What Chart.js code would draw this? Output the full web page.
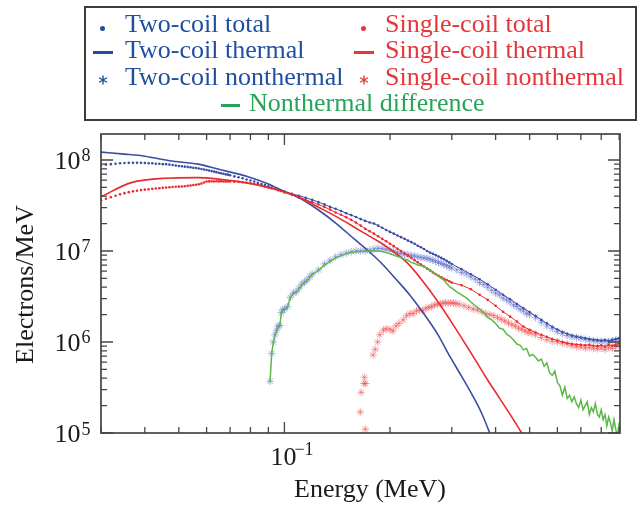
<!DOCTYPE html>
<html lang="en">
<head>
<meta charset="utf-8">
<title>Electron energy spectra</title>
<script src="https://cdn.jsdelivr.net/npm/chart.js@4.4.1/dist/chart.umd.min.js"></script>
<style>
  body { margin: 0; background: #fff; }
  #wrap { position: relative; width: 639px; height: 505px; }
  #chart { position: absolute; left: 0; top: 0; }
  #legendBox { position: absolute; left: 84px; top: 6px; width: 553px; height: 115px; box-sizing: border-box; border: 2px solid #3c3c3c; }
  .lg { position: absolute; font: 26px "Liberation Serif", "Times New Roman", serif; line-height: 26px; white-space: nowrap; }
  .blue { color: #1f4f9e; }
  .red { color: #e4363b; }
  .green { color: #26a558; }
  .dot { position: absolute; width: 5px; height: 5px; border-radius: 50%; }
  .bar { position: absolute; width: 20px; height: 3px; }
  .star { position: absolute; }
</style>
</head>
<body>
<div id="wrap">
  <canvas id="chart" width="639" height="505"></canvas>
  <div id="legendBox"></div>

  <div class="dot" style="left:100px;top:26px;background:#1f4f9e"></div>
  <span class="lg blue" style="left:125px;top:11px">Two-coil total</span>
  <div class="bar" style="left:93px;top:51px;background:#1f4f9e"></div>
  <span class="lg blue" style="left:125px;top:37px">Two-coil thermal</span>
  <svg class="star" style="left:98px;top:75px" width="10" height="10" viewBox="0 0 10 10"><path d="M5 .5V9.5M1.1 2.75L8.9 7.25M1.1 7.25L8.9 2.75" stroke="#1f4f9e" stroke-width="1.4"/></svg>
  <span class="lg blue" style="left:125px;top:64px">Two-coil nonthermal</span>

  <div class="dot" style="left:361px;top:26px;background:#e4363b"></div>
  <span class="lg red" style="left:385px;top:11px">Single-coil total</span>
  <div class="bar" style="left:354px;top:51px;background:#e4363b"></div>
  <span class="lg red" style="left:385px;top:37px">Single-coil thermal</span>
  <svg class="star" style="left:359px;top:75px" width="10" height="10" viewBox="0 0 10 10"><path d="M5 .5V9.5M1.1 2.75L8.9 7.25M1.1 7.25L8.9 2.75" stroke="#e4363b" stroke-width="1.4"/></svg>
  <span class="lg red" style="left:385px;top:64px">Single-coil nonthermal</span>

  <div class="bar" style="left:221px;top:104px;width:19px;background:#26a558"></div>
  <span class="lg green" style="left:249px;top:90px">Nonthermal difference</span>
</div>

<script>
// energy (MeV), electrons/MeV
const twoCoilTotal = [
  [0.030,8.8e7],[0.031,8.9e7],[0.032,9.0e7],[0.033,9.1e7],[0.034,9.2e7],[0.035,9.25e7],[0.036,9.3e7],[0.037,9.3e7],[0.038,9.3e7],[0.039,9.3e7],
  [0.040,9.25e7],[0.041,9.2e7],[0.042,9.2e7],[0.043,9.1e7],[0.044,9.1e7],[0.045,9.0e7],[0.046,9.0e7],[0.047,8.9e7],[0.048,8.8e7],[0.049,8.7e7],
  [0.050,8.6e7],[0.051,8.55e7],[0.052,8.45e7],[0.053,8.4e7],[0.054,8.3e7],[0.055,8.2e7],[0.056,8.15e7],[0.057,8.05e7],[0.058,7.95e7],[0.059,7.85e7],
  [0.060,7.75e7],[0.061,7.65e7],[0.062,7.55e7],[0.063,7.45e7],[0.064,7.35e7],[0.065,7.25e7],[0.066,7.15e7],[0.067,7.05e7],[0.068,6.95e7],[0.069,6.9e7],
  [0.070,6.8e7],[0.072,6.6e7],[0.074,6.45e7],[0.076,6.3e7],[0.078,6.1e7],[0.080,5.95e7],[0.082,5.8e7],[0.084,5.6e7],[0.086,5.45e7],[0.088,5.3e7],
  [0.090,5.15e7],[0.092,5.0e7],[0.094,4.85e7],[0.096,4.7e7],[0.098,4.6e7],[0.100,4.5e7],
  [0.105,4.25e7],[0.110,4.05e7],[0.115,3.85e7],[0.120,3.65e7],[0.125,3.45e7],[0.130,3.25e7],[0.135,3.05e7],[0.140,2.9e7],[0.145,2.75e7],[0.150,2.6e7],
  [0.155,2.48e7],[0.160,2.36e7],[0.165,2.24e7],[0.170,2.14e7],[0.175,2.06e7],[0.180,2.0e7],[0.185,1.9e7],[0.190,1.8e7],[0.195,1.7e7],[0.200,1.62e7],
  [0.205,1.55e7],[0.210,1.48e7],[0.215,1.42e7],[0.220,1.36e7],[0.225,1.3e7],[0.230,1.25e7],[0.235,1.2e7],[0.240,1.14e7],[0.245,1.1e7],[0.250,1.05e7],
  [0.255,1.0e7],[0.260,9.6e6],[0.265,9.3e6],[0.270,9.0e6],[0.275,8.7e6],[0.280,8.4e6],[0.285,8.1e6],[0.290,7.8e6],[0.295,7.5e6],[0.300,7.2e6],
  [0.32,6.3e6],[0.34,5.55e6],[0.36,4.9e6],[0.38,4.3e6],[0.40,3.75e6],[0.42,3.3e6],[0.44,2.95e6],[0.46,2.62e6],[0.48,2.35e6],[0.50,2.13e6],
  [0.52,1.93e6],[0.54,1.75e6],[0.56,1.6e6],[0.58,1.47e6],[0.60,1.37e6],[0.62,1.29e6],[0.64,1.23e6],[0.66,1.18e6],[0.68,1.15e6],[0.70,1.12e6],
  [0.72,1.1e6],[0.74,1.08e6],[0.76,1.06e6],[0.78,1.05e6],[0.80,1.04e6],[0.82,1.05e6],[0.84,1.03e6],[0.86,1.06e6],[0.88,1.08e6],[0.90,1.1e6]
];

const singleCoilTotal = [
  [0.030,3.6e7],[0.031,3.75e7],[0.032,3.9e7],[0.033,4.05e7],[0.034,4.2e7],[0.035,4.32e7],[0.036,4.43e7],[0.037,4.52e7],[0.038,4.6e7],[0.039,4.67e7],
  [0.040,4.72e7],[0.041,4.77e7],[0.042,4.82e7],[0.043,4.86e7],[0.044,4.9e7],[0.045,4.94e7],[0.046,4.98e7],[0.047,5.02e7],[0.048,5.05e7],[0.049,5.08e7],
  [0.050,5.1e7],[0.051,5.12e7],[0.052,5.15e7],[0.053,5.2e7],[0.054,5.25e7],[0.055,5.3e7],[0.056,5.35e7],[0.057,5.42e7],[0.058,5.5e7],[0.059,5.65e7],
  [0.060,5.8e7],[0.061,5.82e7],[0.062,5.85e7],[0.063,5.8e7],[0.064,5.85e7],[0.065,5.82e7],[0.066,5.85e7],[0.067,5.8e7],[0.068,5.82e7],[0.069,5.8e7],
  [0.070,5.8e7],[0.072,5.78e7],[0.074,5.75e7],[0.076,5.7e7],[0.078,5.62e7],[0.080,5.55e7],[0.082,5.45e7],[0.084,5.35e7],[0.086,5.25e7],[0.088,5.1e7],
  [0.090,5.0e7],[0.092,4.9e7],[0.094,4.8e7],[0.096,4.65e7],[0.098,4.55e7],[0.100,4.4e7],
  [0.105,4.15e7],[0.110,3.85e7],[0.115,3.65e7],[0.120,3.45e7],[0.125,3.25e7],[0.130,3.05e7],[0.135,2.85e7],[0.140,2.65e7],[0.145,2.5e7],[0.150,2.35e7],
  [0.155,2.2e7],[0.160,2.05e7],[0.165,1.9e7],[0.170,1.75e7],[0.175,1.65e7],[0.180,1.55e7],[0.185,1.45e7],[0.190,1.36e7],[0.195,1.28e7],[0.200,1.2e7],
  [0.205,1.13e7],[0.210,1.06e7],[0.215,1.0e7],[0.220,9.4e6],[0.225,8.9e6],[0.230,8.4e6],[0.235,7.9e6],[0.240,7.5e6],[0.245,7.1e6],[0.250,6.75e6],
  [0.255,6.4e6],[0.260,6.1e6],[0.265,5.8e6],[0.270,5.55e6],[0.275,5.35e6],[0.280,5.15e6],[0.285,4.95e6],[0.290,4.8e6],[0.295,4.65e6],[0.300,4.5e6],
  [0.32,4.2e6],[0.34,3.8e6],[0.36,3.3e6],[0.38,2.9e6],[0.40,2.5e6],[0.42,2.15e6],[0.44,1.9e6],[0.46,1.68e6],[0.48,1.48e6],[0.50,1.36e6],
  [0.52,1.27e6],[0.54,1.2e6],[0.56,1.14e6],[0.58,1.08e6],[0.60,1.04e6],[0.62,1.0e6],[0.64,9.7e5],[0.66,9.5e5],[0.68,9.4e5],[0.70,9.3e5],
  [0.72,9.2e5],[0.74,9.3e5],[0.76,9.1e5],[0.78,9.0e5],[0.80,9.2e5],[0.82,8.9e5],[0.84,9.3e5],[0.86,9.1e5],[0.88,9.4e5],[0.90,9.7e5]
];

const twoCoilThermal = [
  [0.030,1.22e8],[0.035,1.16e8],[0.040,1.1e8],[0.047,9.8e7],[0.0568,9.0e7],[0.065,7.9e7],[0.0788,6.55e7],[0.090,5.45e7],
  [0.100,4.5e7],[0.1108,3.8e7],[0.125,2.82e7],[0.140,2.03e7],[0.159,1.33e7],[0.1736,1.0e7],[0.190,7.2e6],[0.209,4.8e6],
  [0.228,3.27e6],[0.2489,2.08e6],[0.272,1.26e6],[0.2965,6.9e5],[0.320,4.2e5],[0.3455,2.5e5],[0.365,1.65e5],[0.385,1.0e5],[0.400,7.2e4]
];

const singleCoilThermal = [
  [0.030,3.95e7],[0.0366,5.64e7],[0.0456,6.3e7],[0.0568,6.4e7],[0.0706,5.93e7],[0.0879,5.1e7],[0.1094,3.95e7],[0.125,3.03e7],
  [0.141,2.37e7],[0.155,1.92e7],[0.170,1.55e7],[0.185,1.28e7],[0.200,1.05e7],[0.224,7.4e6],[0.249,4.57e6],[0.278,2.55e6],
  [0.2965,1.75e6],[0.3455,6.9e5],[0.380,3.8e5],[0.4117,2.37e5],[0.4747,1.0e5],[0.500,7.0e4]
];

const twoCoilNonthermal = [
  [0.091,3.7e5],[0.092,7.5e5],[0.093,1.0e6],[0.094,1.2e6],[0.095,1.35e6],[0.096,1.5e6],[0.097,1.52e6],[0.098,2.1e6],[0.099,2.25e6],[0.100,2.3e6],
  [0.102,2.45e6],[0.104,3.1e6],[0.106,3.45e6],[0.108,3.55e6],[0.110,3.9e6],[0.112,4.3e6],[0.114,4.55e6],[0.116,4.8e6],[0.118,5.2e6],[0.120,5.6e6],
  [0.125,6.2e6],[0.130,7.2e6],[0.135,7.9e6],[0.140,8.6e6],[0.145,9.1e6],[0.150,9.5e6],[0.155,9.8e6],[0.160,1.0e7],[0.165,1.0e7],[0.170,1.0e7],
  [0.175,1.02e7],[0.180,1.05e7],[0.185,1.07e7],[0.190,1.06e7],[0.195,1.04e7],[0.200,1.02e7],[0.205,9.9e6],[0.210,9.6e6],[0.215,9.4e6],[0.220,9.2e6],
  [0.225,9.1e6],[0.230,8.9e6],[0.235,8.8e6],[0.240,8.6e6],[0.245,8.5e6],[0.250,8.4e6],[0.255,8.3e6],[0.260,8.1e6],[0.265,7.9e6],[0.270,7.7e6],
  [0.275,7.5e6],[0.280,7.3e6],[0.285,7.1e6],[0.290,6.9e6],[0.295,6.7e6],[0.300,6.5e6],
  [0.31,6.2e6],[0.32,5.8e6],[0.33,5.6e6],[0.34,5.2e6],[0.35,4.9e6],[0.36,4.5e6],[0.37,4.3e6],[0.38,4.0e6],[0.39,3.7e6],[0.40,3.45e6],
  [0.41,3.3e6],[0.42,3.05e6],[0.43,2.9e6],[0.44,2.75e6],[0.45,2.55e6],[0.46,2.45e6],[0.47,2.3e6],[0.48,2.2e6],[0.49,2.05e6],[0.50,2.0e6],
  [0.52,1.85e6],[0.54,1.65e6],[0.56,1.5e6],[0.58,1.4e6],[0.60,1.3e6],[0.62,1.24e6],[0.64,1.18e6],[0.66,1.14e6],[0.68,1.12e6],[0.70,1.1e6],
  [0.72,1.07e6],[0.74,1.05e6],[0.76,1.03e6],[0.78,1.02e6],[0.80,1.01e6],[0.82,1.02e6],[0.84,1.0e6],[0.86,1.03e6],[0.88,1.05e6],[0.90,1.07e6]
];

const singleCoilNonthermal = [
  [0.1645,1.7e5],[0.1655,2.8e5],[0.1685,3.5e5],[0.1690,4.1e5],[0.1700,1.1e5],[0.1705,3.5e5],[0.1790,7.2e5],[0.1815,8.3e5],[0.1845,1.0e6],[0.1870,1.2e6],
  [0.1915,1.35e6],[0.1950,1.4e6],[0.2000,1.38e6],[0.2040,1.32e6],[0.2080,1.5e6],[0.2120,1.6e6],[0.2180,1.75e6],[0.2230,1.95e6],[0.2280,2.05e6],[0.2330,2.05e6],
  [0.2380,2.2e6],[0.2430,2.25e6],[0.2480,2.2e6],[0.2530,2.35e6],[0.2580,2.4e6],[0.2630,2.45e6],[0.2680,2.55e6],[0.2730,2.6e6],[0.2780,2.62e6],[0.2830,2.68e6],
  [0.2880,2.7e6],[0.2930,2.68e6],[0.2980,2.7e6],[0.3030,2.68e6],[0.3080,2.65e6],[0.315,2.6e6],[0.325,2.5e6],[0.335,2.4e6],[0.345,2.3e6],[0.355,2.25e6],
  [0.365,2.15e6],[0.375,2.05e6],[0.385,2.0e6],[0.395,1.95e6],[0.405,1.85e6],[0.415,1.78e6],[0.425,1.7e6],[0.435,1.62e6],[0.445,1.55e6],[0.455,1.5e6],
  [0.465,1.42e6],[0.475,1.38e6],[0.485,1.32e6],[0.495,1.28e6],[0.505,1.25e6],[0.52,1.2e6],[0.54,1.12e6],[0.56,1.06e6],[0.58,1.02e6],[0.60,1.0e6],
  [0.62,9.7e5],[0.64,9.5e5],[0.66,9.1e5],[0.68,8.9e5],[0.70,8.8e5],[0.72,8.6e5],[0.74,8.7e5],[0.76,8.5e5],[0.78,8.4e5],[0.80,8.6e5],
  [0.82,8.3e5],[0.84,8.7e5],[0.86,8.5e5],[0.88,8.9e5],[0.90,9.3e5]
];

const nonthermalDifference = [
  [0.091,3.7e5],[0.092,7.5e5],[0.093,1.0e6],[0.094,1.2e6],[0.095,1.3e6],[0.096,1.5e6],[0.097,1.5e6],[0.098,2.1e6],[0.099,2.2e6],[0.100,2.25e6],
  [0.102,2.4e6],[0.104,3.1e6],[0.106,3.4e6],[0.108,3.5e6],[0.110,3.8e6],[0.112,4.2e6],[0.114,4.5e6],[0.116,4.7e6],[0.118,5.1e6],[0.120,5.5e6],
  [0.125,6.1e6],[0.130,7.0e6],[0.135,7.7e6],[0.140,8.4e6],[0.145,8.9e6],[0.150,9.3e6],[0.155,9.6e6],[0.160,9.8e6],[0.165,9.9e6],[0.170,1.0e7],
  [0.175,1.0e7],[0.180,1.0e7],[0.185,1.0e7],[0.190,9.9e6],[0.195,9.6e6],[0.200,9.3e6],[0.205,9.0e6],[0.210,8.7e6],[0.215,8.5e6],[0.220,8.1e6],
  [0.225,7.9e6],[0.230,7.5e6],[0.235,7.3e6],[0.240,7.0e6],[0.245,6.9e6],[0.250,6.7e6],[0.255,6.5e6],[0.260,6.2e6],[0.265,5.9e6],[0.270,5.6e6],
  [0.275,5.3e6],[0.280,5.0e6],[0.285,4.8e6],[0.290,4.4e6],[0.295,4.1e6],[0.300,3.9e6],
  [0.31,3.55e6],[0.32,3.3e6],[0.33,3.05e6],[0.34,2.75e6],[0.35,2.5e6],[0.36,2.3e6],[0.37,2.1e6],[0.38,1.85e6],[0.39,1.75e6],[0.40,1.6e6],
  [0.41,1.42e6],[0.42,1.38e6],[0.43,1.22e6],[0.44,1.15e6],[0.45,1.05e6],[0.46,9.5e5],[0.47,9.2e5],[0.48,8.2e5],[0.49,8.5e5],[0.50,7.0e5],
  [0.51,7.3e5],[0.52,6.8e5],[0.53,6.2e5],[0.54,6.5e5],[0.55,5.4e5],[0.56,5.9e5],[0.57,4.6e5],[0.58,4.3e5],[0.59,4.8e5],[0.60,3.6e5],
  [0.61,3.3e5],[0.62,2.6e5],[0.63,3.2e5],[0.64,2.4e5],[0.65,2.6e5],[0.66,2.2e5],[0.67,2.5e5],[0.68,2.1e5],[0.69,1.9e5],[0.70,2.3e5],
  [0.71,1.8e5],[0.72,2.0e5],[0.73,2.2e5],[0.74,1.6e5],[0.75,1.9e5],[0.76,1.7e5],[0.77,2.1e5],[0.78,1.6e5],[0.79,1.5e5],[0.80,1.8e5],
  [0.81,1.4e5],[0.82,1.6e5],[0.83,1.2e5],[0.84,1.5e5],[0.85,1.3e5],[0.86,1.05e5],[0.87,1.4e5],[0.88,1.1e5],[0.89,9.0e4],[0.90,1.3e5]
];

// axis ticks and labels
const xTicks = [0.03,0.04,0.05,0.06,0.07,0.08,0.09,0.1,0.2,0.3,0.4,0.5,0.6,0.7,0.8,0.9];
const xMajorTicks = [0.1];
const xLabelValues = [0.1];
const xLabelExps = ['\u22121'];
const yTicks = [1e5,2e5,3e5,4e5,5e5,6e5,7e5,8e5,9e5,1e6,2e6,3e6,4e6,5e6,6e6,7e6,8e6,9e6,
                1e7,2e7,3e7,4e7,5e7,6e7,7e7,8e7,9e7,1e8];
const yMajorTicks = [1e5,1e6,1e7,1e8];
const yLabelValues = [1e5,1e6,1e7,1e8];
const yLabelExps = ['5','6','7','8'];

const BLUE = '#3a4ea2';
const RED = '#ec2a2e';
const GREEN = '#5cb847';
const SERIF = '"Liberation Serif", "Times New Roman", serif';

const toXY = arr => arr.map(p => ({ x: p[0], y: p[1] }));
const hideLow = c => c.p0.parsed.x < 0.1 ? 'rgba(0,0,0,0)' : undefined;

const axesFrame = {
  id: 'axesFrame',
  afterDatasetsDraw(chart) {
    const { ctx, chartArea: a, scales } = chart;
    const xs = scales.x, ys = scales.y;
    ctx.save();
    ctx.strokeStyle = '#454545';
    ctx.lineWidth = 1.3;
    ctx.beginPath();
    xTicks.forEach(v => {
      const px = xs.getPixelForValue(v);
      const len = xMajorTicks.includes(v) ? 11 : 6;
      ctx.moveTo(px, a.bottom); ctx.lineTo(px, a.bottom - len);
      ctx.moveTo(px, a.top); ctx.lineTo(px, a.top + len);
    });
    yTicks.forEach(v => {
      const py = ys.getPixelForValue(v);
      const len = yMajorTicks.includes(v) ? 12 : 6;
      ctx.moveTo(a.left, py); ctx.lineTo(a.left + len, py);
      ctx.moveTo(a.right, py); ctx.lineTo(a.right - len, py);
    });
    ctx.stroke();
    ctx.lineWidth = 1.7;
    ctx.strokeRect(a.left, a.top, a.right - a.left, a.bottom - a.top);

    ctx.fillStyle = '#1a1a1a';
    ctx.textBaseline = 'alphabetic';
    yLabelValues.forEach((v, i) => {
      const py = ys.getPixelForValue(v);
      ctx.font = '26px ' + SERIF;
      ctx.textAlign = 'right';
      ctx.fillText('10', 80.5, py + 9);
      ctx.font = '18px ' + SERIF;
      ctx.textAlign = 'left';
      ctx.fillText(yLabelExps[i], 81.5, py + 1.5);
    });
    xLabelValues.forEach((v, i) => {
      const px = xs.getPixelForValue(v);
      ctx.font = '26px ' + SERIF;
      ctx.textAlign = 'center';
      ctx.fillText('10', px - 1, a.bottom + 32);
      ctx.font = '18px ' + SERIF;
      ctx.textAlign = 'left';
      ctx.fillText(xLabelExps[i], px + 10, a.bottom + 22);
    });

    ctx.font = '26px ' + SERIF;
    ctx.textAlign = 'center';
    ctx.fillText('Energy (MeV)', 370, 497);
    ctx.translate(33, 284.5);
    ctx.rotate(-Math.PI / 2);
    ctx.fillText('Electrons/MeV', 0, 0);
    ctx.restore();
  }
};

new Chart(document.getElementById('chart'), {
  type: 'line',
  data: {
    datasets: [
      {
        label: 'Nonthermal difference',
        data: toXY(nonthermalDifference),
        borderColor: GREEN, borderWidth: 1.5, pointRadius: 0, order: 0
      },
      {
        label: 'Single-coil thermal',
        data: toXY(singleCoilThermal),
        borderColor: RED, borderWidth: 1.6, pointRadius: 0,
        cubicInterpolationMode: 'monotone', order: 1
      },
      {
        label: 'Two-coil thermal',
        data: toXY(twoCoilThermal),
        borderColor: BLUE, borderWidth: 1.6, pointRadius: 0,
        cubicInterpolationMode: 'monotone', order: 2
      },
      {
        label: 'Two-coil total',
        data: toXY(twoCoilTotal),
        borderColor: BLUE, borderWidth: 1, pointRadius: 1.3, pointBorderWidth: 0,
        pointBackgroundColor: BLUE, segment: { borderColor: hideLow }, order: 3
      },
      {
        label: 'Single-coil total',
        data: toXY(singleCoilTotal),
        borderColor: RED, borderWidth: 1, pointRadius: 1.3, pointBorderWidth: 0,
        pointBackgroundColor: RED, segment: { borderColor: hideLow }, order: 4
      },
      {
        label: 'Single-coil nonthermal',
        data: toXY(singleCoilNonthermal),
        showLine: false, pointStyle: 'star', pointRadius: 3.8, pointBorderWidth: 1,
        pointBorderColor: 'rgba(238,80,80,0.55)', order: 5
      },
      {
        label: 'Two-coil nonthermal',
        data: toXY(twoCoilNonthermal),
        showLine: false, pointStyle: 'star', pointRadius: 3.8, pointBorderWidth: 1,
        pointBorderColor: 'rgba(95,110,205,0.55)', order: 6
      }
    ]
  },
  options: {
    responsive: false,
    devicePixelRatio: 1,
    animation: false,
    events: [],
    layout: { padding: { left: 101, top: 134, right: 19, bottom: 72 } },
    plugins: { legend: { display: false }, tooltip: { enabled: false } },
    scales: {
      x: { type: 'logarithmic', min: 0.03, max: 0.905, display: false },
      y: { type: 'logarithmic', min: 1e5, max: 1.93e8, display: false }
    }
  },
  plugins: [axesFrame]
});
</script>
</body>
</html>
